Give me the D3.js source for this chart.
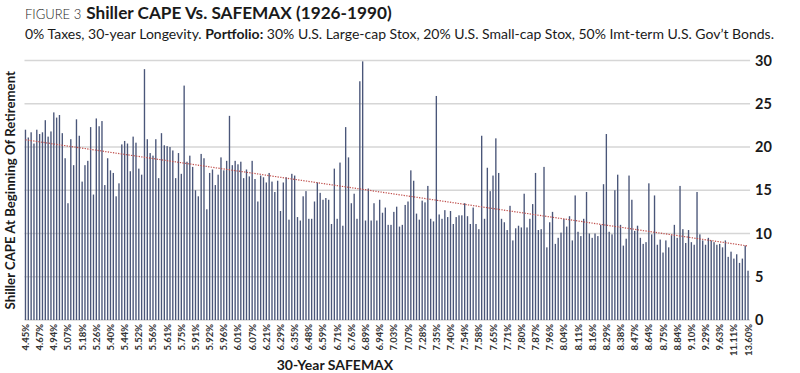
<!DOCTYPE html>
<html>
<head>
<meta charset="utf-8">
<script src="https://cdn.jsdelivr.net/npm/d3@7"></script>
<style>
  body { margin: 0; background: #fff; }
  svg { display: block; font-family: Lato, "Open Sans", sans-serif; }
</style>
</head>
<body>
<div id="chart"></div>
<script>
// labels shown under every 5th bar (sorted by 30-year SAFEMAX)
const safemaxLabels = [
  "4.45%", "4.67%", "4.94%", "5.07%", "5.18%", "5.26%", "5.40%", "5.44%", "5.52%", "5.56%",
  "5.61%", "5.75%", "5.91%", "5.92%", "5.96%", "6.01%", "6.07%", "6.21%", "6.29%", "6.35%",
  "6.48%", "6.59%", "6.71%", "6.76%", "6.89%", "6.94%", "7.03%", "7.07%", "7.28%", "7.35%",
  "7.40%", "7.54%", "7.58%", "7.65%", "7.71%", "7.80%", "7.87%", "7.96%", "8.04%", "8.11%",
  "8.16%", "8.29%", "8.38%", "8.47%", "8.64%", "8.75%", "8.84%", "9.10%", "9.29%", "9.63%",
  "11.11%", "13.60%"
];

// Shiller CAPE at start of each quarterly retirement, same order
const cape = [
  22.0, 21.1, 21.7, 20.4, 22.0, 21.5, 21.7, 23.1, 21.2, 21.8,
  24.0, 23.4, 23.7, 21.6, 18.7, 13.5, 20.9, 17.9, 23.2, 21.3,
  16.0, 17.9, 18.4, 22.3, 14.5, 23.3, 22.4, 23.0, 15.6, 18.7,
  17.3, 17.0, 14.3, 15.8, 20.3, 20.7, 20.4, 17.2, 21.2, 20.5,
  17.5, 16.8, 29.0, 20.9, 19.3, 19.0, 20.9, 16.4, 21.6, 20.2,
  20.1, 20.0, 19.6, 16.4, 19.3, 16.9, 27.1, 18.3, 19.0, 17.7,
  15.0, 14.3, 19.2, 18.7, 12.8, 17.0, 17.4, 15.6, 16.8, 18.8,
  17.3, 18.4, 23.6, 17.9, 18.4, 18.0, 18.3, 16.4, 17.4, 16.6,
  18.4, 16.3, 13.7, 16.7, 16.5, 15.9, 17.0, 16.0, 14.8, 16.1,
  12.6, 15.9, 16.5, 11.6, 16.9, 16.7, 11.9, 11.5, 14.3, 14.9,
  11.7, 11.7, 13.7, 15.9, 14.7, 13.9, 14.1, 13.9, 11.1, 17.5,
  11.7, 18.2, 10.9, 22.3, 18.8, 13.5, 14.6, 11.7, 27.6, 29.9,
  11.5, 15.2, 11.5, 13.5, 11.5, 13.9, 12.4, 13.0, 11.0, 11.0,
  12.5, 13.1, 10.8, 11.0, 13.3, 13.7, 17.3, 16.1, 12.3, 11.6,
  13.8, 13.6, 15.5, 11.7, 11.4, 25.9, 12.2, 11.7, 12.7, 11.9,
  12.6, 11.1, 11.9, 12.1, 12.1, 13.5, 12.0, 11.1, 13.0, 11.1,
  10.5, 21.3, 11.7, 17.6, 14.9, 16.7, 21.0, 17.0, 11.7, 11.3,
  10.4, 13.2, 9.2, 10.6, 10.9, 10.7, 14.6, 10.7, 11.7, 13.4,
  17.0, 10.4, 10.5, 17.7, 8.4, 11.3, 12.5, 8.8, 9.5, 10.1,
  11.7, 10.8, 12.0, 9.2, 14.4, 10.2, 9.7, 11.7, 14.8, 10.0,
  9.5, 10.0, 9.7, 11.0, 15.7, 21.5, 10.2, 9.9, 15.0, 16.8,
  11.0, 8.6, 9.4, 16.7, 13.9, 10.3, 10.9, 9.5, 8.8, 9.0,
  15.8, 9.9, 14.4, 8.7, 9.3, 7.8, 9.2, 8.4, 9.8, 11.0,
  9.5, 15.5, 10.5, 8.9, 10.4, 9.0, 8.7, 14.8, 9.9, 9.2,
  8.7, 9.5, 9.2, 9.0, 8.7, 8.8, 8.4, 9.2, 7.3, 7.9,
  7.1, 7.6, 6.6, 7.1, 8.6, 5.7
];

const yTicks = [0, 5, 10, 15, 20, 25, 30];

const width = 800, height = 373;
const margin = { top: 60.5, right: 51, bottom: 53, left: 24.5 };

const svg = d3.select("#chart").append("svg")
  .attr("width", width)
  .attr("height", height);

const x = d3.scaleBand()
  .domain(d3.range(cape.length))
  .range([margin.left, width - margin.right])
  .paddingInner(0.52)
  .paddingOuter(0.1);

const y = d3.scaleLinear()
  .domain([0, 30])
  .range([height - margin.bottom, margin.top]);

// title + subtitle
const title = svg.append("text").attr("x", 25).attr("y", 18.5).attr("fill", "#1a1a1a");
title.append("tspan").attr("font-size", 13).attr("font-weight", 300).text("FIGURE 3");
title.append("tspan").attr("font-size", 17.2).attr("font-weight", 700).attr("dx", 5)
  .text("Shiller CAPE Vs. SAFEMAX (1926-1990)");

const sub = svg.append("text").attr("x", 25).attr("y", 38.5)
  .attr("font-size", 14).attr("fill", "#1a1a1a");
sub.append("tspan").text("0% Taxes, 30-year Longevity. ");
sub.append("tspan").attr("font-weight", 700).text("Portfolio:");
sub.append("tspan").text(" 30% U.S. Large-cap Stox, 20% U.S. Small-cap Stox, 50% Imt-term U.S. Gov\u2019t Bonds.");

// gridlines
svg.append("g")
  .selectAll("line")
  .data(yTicks)
  .join("line")
  .attr("x1", margin.left)
  .attr("x2", width - margin.right + 1)
  .attr("y1", d => y(d))
  .attr("y2", d => y(d))
  .attr("stroke", "#d6d6d6")
  .attr("stroke-width", 1.3);

// bars
svg.append("g")
  .selectAll("rect")
  .data(cape)
  .join("rect")
  .attr("x", (d, i) => x(i))
  .attr("width", x.bandwidth())
  .attr("y", d => y(d))
  .attr("height", d => y(0) - y(d))
  .attr("fill", "#4a5679");

// linear trendline (least squares over bar index)
const n = cape.length;
const mx = d3.mean(d3.range(n));
const my = d3.mean(cape);
const slope = d3.sum(cape, (d, i) => (i - mx) * (d - my)) / d3.sum(d3.range(n), i => (i - mx) ** 2);
const icpt = my - slope * mx;
svg.append("line")
  .attr("x1", x(0) + x.bandwidth() / 2)
  .attr("x2", x(n - 1) + x.bandwidth() / 2)
  .attr("y1", y(icpt))
  .attr("y2", y(icpt + slope * (n - 1)))
  .attr("stroke", "#c0504d")
  .attr("stroke-width", 1.2)
  .attr("stroke-dasharray", "1.3,1.3");

// right y axis
svg.append("g")
  .attr("transform", `translate(${width - margin.right}, 0)`)
  .call(d3.axisRight(y).tickValues(yTicks).tickSize(0).tickPadding(6))
  .call(g => g.select(".domain").remove())
  .call(g => g.selectAll("text")
    .attr("font-family", "Lato, sans-serif")
    .attr("font-size", 14.5)
    .attr("font-weight", 700)
    .attr("fill", "#1a1a1a"));

// x tick labels every 5th bar
svg.append("g")
  .selectAll("text")
  .data(safemaxLabels)
  .join("text")
  .attr("transform", (d, i) => `translate(${x(i * 5) + x.bandwidth() / 2 + 3.5}, ${height - margin.bottom + 4}) rotate(-90)`)
  .attr("text-anchor", "end")
  .attr("font-size", 9.5)
  .attr("font-weight", 700)
  .attr("fill", "#333")
  .text(d => d);

// axis titles
svg.append("text")
  .attr("x", 335)
  .attr("y", 370)
  .attr("text-anchor", "middle")
  .attr("font-size", 14)
  .attr("font-weight", 700)
  .attr("fill", "#1a1a1a")
  .text("30-Year SAFEMAX");

svg.append("text")
  .attr("transform", `translate(15, ${(margin.top + height - margin.bottom) / 2}) rotate(-90)`)
  .attr("text-anchor", "middle")
  .attr("font-size", 13.2)
  .attr("font-weight", 700)
  .attr("fill", "#1a1a1a")
  .text("Shiller CAPE At Beginning Of Retirement");
</script>
</body>
</html>
